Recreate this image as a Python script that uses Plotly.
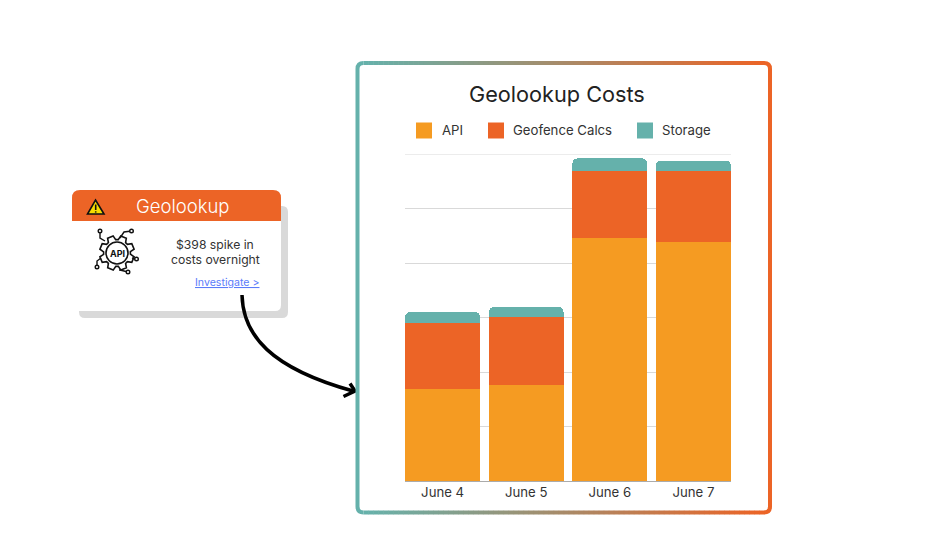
import math
import plotly.graph_objects as go

days = ["June 4", "June 5", "June 6", "June 7"]
api = [169, 176, 446, 439]
geofence = [120, 125, 123, 129]
storage = [21, 18, 23, 20]
series_names = ["API", "Geofence Calcs", "Storage"]

FONT = "Inter"
TEAL, ORANGE, AMBER = "#65B1AB", "#EC6426", "#F59B22"
W, H = 927, 553

fig = go.Figure()
for name, vals, col in zip(series_names, [api, geofence, storage], [AMBER, ORANGE, TEAL]):
    fig.add_bar(x=days, y=vals, name=name, marker=dict(color=col, line_width=0), showlegend=False)

# invisible pixel-scale trace so decorations can be placed on the page
fig.add_scatter(x=[0], y=[0], xaxis="x2", yaxis="y2", mode="markers",
                marker=dict(opacity=0), showlegend=False, hoverinfo="skip")

shapes = []
# top gridline of the value scale
shapes.append(dict(type="line", xref="x domain", yref="y", x0=0, x1=1, y0=600, y1=600,
                   line=dict(color="#D9D9D9", width=1), layer="below"))

def P(d, fill=None, line=None, w=0):
    shapes.append(dict(type="path", path=d, xref="x2", yref="y2",
                       fillcolor=fill or "rgba(0,0,0,0)",
                       line=dict(color=line or "rgba(0,0,0,0)", width=w)))

def rr(x0, y0, x1, y1, r):
    return (f"M{x0+r},{y0} L{x1-r},{y0} Q{x1},{y0} {x1},{y0+r} L{x1},{y1-r} Q{x1},{y1} {x1-r},{y1} "
            f"L{x0+r},{y1} Q{x0},{y1} {x0},{y1-r} L{x0},{y0+r} Q{x0},{y0} {x0+r},{y0} Z")

# alert card
P(rr(79, 206, 288, 318, 6), fill="#D9D9D9")
P(rr(72, 190, 281, 311, 6), fill="#FFFFFF")
P("M72,221 L72,198 Q72,190 80,190 L273,190 Q281,190 281,198 L281,221 Z", fill=ORANGE)

# warning triangle
P("M95.5,200 L104,214 L87.5,214 Z", fill="#F7DC00", line="#111111", w=1.6)
P("M95.7,204.5 L95.7,210", line="#111111", w=1.6)
P("M95.7,211.3 L95.7,212.6", line="#111111", w=1.6)

# API gear icon
cx, cy = 117, 253
pts = []
teeth = 8
for i in range(teeth):
    a = 2 * math.pi * i / teeth + 0.39
    for da, r in [(-0.30, 13.5), (-0.17, 17.5), (0.17, 17.5), (0.30, 13.5)]:
        pts.append((cx + r * math.cos(a + da), cy + r * math.sin(a + da)))
P("M" + " L".join(f"{x:.1f},{y:.1f}" for x, y in pts) + " Z", fill="#FFFFFF", line="#111111", w=1.6)
shapes.append(dict(type="circle", xref="x2", yref="y2", x0=cx-11, x1=cx+11, y0=cy-11, y1=cy+11,
                   fillcolor="#FFFFFF", line=dict(color="#111111", width=1.6)))
for d in ["M100,231 L100,238 L105,241", "M131.5,231 L124,232 L120,238", "M136.5,259 L132,258",
          "M128,272 L120,270 L119,270", "M97,267 L97,261 L101,258"]:
    P(d, line="#111111", w=1.4)
for nx, ny in [(100, 231), (131.5, 231), (136.5, 259), (128, 272), (97, 267)]:
    shapes.append(dict(type="circle", xref="x2", yref="y2", x0=nx-1.8, x1=nx+1.8, y0=ny-1.8, y1=ny+1.8,
                       fillcolor="#FFFFFF", line=dict(color="#111111", width=1.4)))

# curved arrow
P("M242,295 C243,335 270,368 353,391", line="#000000", w=3.5)
P("M350,383.5 L355,391 L343.5,396.5", line="#000000", w=3.5)

# gradient frame
x0, x1, y0, y1, r = 357.5, 770, 63, 512.5, 6
def mix(t):
    a = (0x65, 0xB1, 0xAB); b = (0xEC, 0x64, 0x26)
    return "#%02X%02X%02X" % tuple(round(a[i] + (b[i] - a[i]) * t) for i in range(3))
P(f"M{x0+r},{y0} Q{x0},{y0} {x0},{y0+r} L{x0},{y1-r} Q{x0},{y1} {x0+r},{y1}", line=TEAL, w=4)
P(f"M{x1-r},{y0} Q{x1},{y0} {x1},{y0+r} L{x1},{y1-r} Q{x1},{y1} {x1-r},{y1}", line=ORANGE, w=4)
N = 80
for i in range(N):
    a = x0 + r + (x1 - x0 - 2 * r) * i / N
    b = x0 + r + (x1 - x0 - 2 * r) * (i + 1) / N + 0.4
    for y in (y0, y1):
        shapes.append(dict(type="line", xref="x2", yref="y2", x0=a, x1=b, y0=y, y1=y,
                           line=dict(color=mix((i + 0.5) / N), width=4)))

# legend swatches
swatch_x = [416, 488, 637]
for sx, col in zip(swatch_x, [AMBER, ORANGE, TEAL]):
    shapes.append(dict(type="rect", xref="x2", yref="y2", x0=sx, x1=sx+16, y0=122.5, y1=138.5,
                       fillcolor=col, line_width=0))

def T(x, y, s, size, color="#333333", anchor="center", weight=None):
    f = dict(family=FONT, size=size, color=color)
    if weight:
        f["weight"] = weight
    return dict(x=x, y=y, xref="x2", yref="y2", text=s, showarrow=False, xanchor=anchor, yanchor="middle", font=f)

annotations = [
    T(557, 93.5, "Geolookup Costs", 21.7, "#222222"),
    T(439.5, 129.5, series_names[0], 13.2, anchor="left"),
    T(511, 129.5, series_names[1], 13.2, anchor="left"),
    T(660, 129.5, series_names[2], 13.2, anchor="left"),
    T(183, 206, "Geolookup", 18.5, "#FFFFFF", weight=300),
    T(215, 244, "$398 spike in", 12.2),
    T(215, 259, "costs overnight", 12.2),
    T(227, 282, "<u>Investigate &gt;</u>", 10.6, "#5B7CFA"),
    T(117, 253, "<b>API</b>", 9, "#111111"),
]

fig.update_layout(
    width=W, height=H, margin=dict(l=0, r=0, t=0, b=0),
    paper_bgcolor="#FFFFFF", plot_bgcolor="rgba(0,0,0,0)",
    barmode="stack", bargap=0.105, barcornerradius=5, showlegend=False,
    font=dict(family=FONT, color="#333333"),
    shapes=shapes, annotations=annotations,
    xaxis=dict(domain=[405 / W, 731 / W], range=[-0.45, 3.45], type="category",
               tickfont=dict(size=13.2, color="#333333"), ticks="", ticklen=0, anchor="y",
               ticklabelstandoff=-1,
               showline=True, linecolor="#ABABAB", linewidth=1, showgrid=False, zeroline=False),
    yaxis=dict(domain=[1 - 481 / H, 1 - 154 / H], range=[0, 600], dtick=100, showticklabels=False,
               gridcolor="#D9D9D9", gridwidth=1, zeroline=False, ticks="", anchor="x"),
    xaxis2=dict(domain=[0, 1], range=[0, W], visible=False, anchor="y2", fixedrange=True),
    yaxis2=dict(domain=[0, 1], range=[H, 0], visible=False, anchor="x2", fixedrange=True),
)

fig.write_html("out.html", config=dict(displayModeBar=False),
               post_script="document.body.style.margin='0';document.body.style.overflow='hidden';")
